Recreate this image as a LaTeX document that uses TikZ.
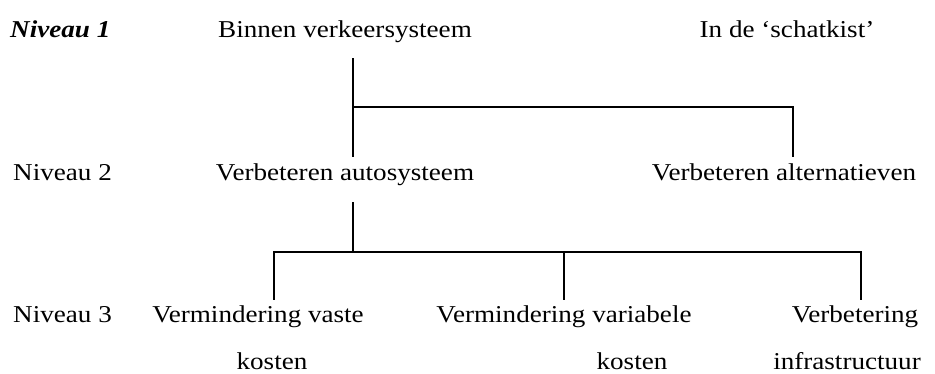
\documentclass[tikz,border=0pt]{standalone}
\usepackage{fontspec}
\setmainfont{Liberation Serif}[FakeStretch=1.12]
\begin{document}
\begin{tikzpicture}[x=1pt,y=-1pt,
  lbl/.style={inner sep=0pt, anchor=base, font=\fontsize{24.2pt}{29pt}\selectfont},
  lvl/.style={lbl, anchor=base west},
  link/.style={line width=2pt, line cap=rect}]
  \useasboundingbox (0,0) rectangle (935,374);

  % level labels
  \node[lvl, font=\fontsize{24.2pt}{29pt}\selectfont\bfseries\itshape] (n1) at (10,38) {Niveau 1};
  \node[lvl] (n2) at (13,181) {Niveau 2};
  \node[lvl] (n3) at (13,323) {Niveau 3};

  % level 1
  \node[lbl] (bin) at (345,38) {Binnen verkeersysteem};
  \node[lbl] (schat) at (787,38) {In de ‘schatkist’};

  % level 2
  \node[lbl] (auto) at (345,181) {Verbeteren autosysteem};
  \node[lbl] (alt) at (784,181) {Verbeteren alternatieven};

  % level 3
  \node[lbl] (vast) at (258,323) {Vermindering vaste};
  \node[lbl] (vastb) at (272,369.5) {kosten};
  \node[lbl] (var) at (564,323) {Vermindering variabele};
  \node[lbl] (varb) at (632,369.5) {kosten};
  \node[lbl] (infra) at (855,323) {Verbetering};
  \node[lbl] (infrab) at (847,369.5) {infrastructuur};

  % connector points
  \coordinate (binTop) at (352.7,59);
  \coordinate (binJ) at (352.7,107);
  \coordinate (autoTop) at (352.7,156);
  \coordinate (altJ) at (793,107);
  \coordinate (altTop) at (793,156);

  \coordinate (autoBot) at (352.7,203);
  \coordinate (autoJ) at (352.7,252);
  \coordinate (vastJ) at (274,252);
  \coordinate (vastTop) at (274,299);
  \coordinate (varJ) at (564,252);
  \coordinate (varTop) at (564,299);
  \coordinate (infraJ) at (861,252);
  \coordinate (infraTop) at (861,299);

  % tree between level 1 and level 2
  \draw[link] (binTop) -- (autoTop);
  \draw[link] (binJ) -- (altJ) -- (altTop);

  % tree between level 2 and level 3
  \draw[link] (autoBot) -- (autoJ);
  \draw[link] (vastTop) -- (vastJ) -- (infraJ) -- (infraTop);
  \draw[link] (varJ) -- (varTop);
\end{tikzpicture}
\end{document}
